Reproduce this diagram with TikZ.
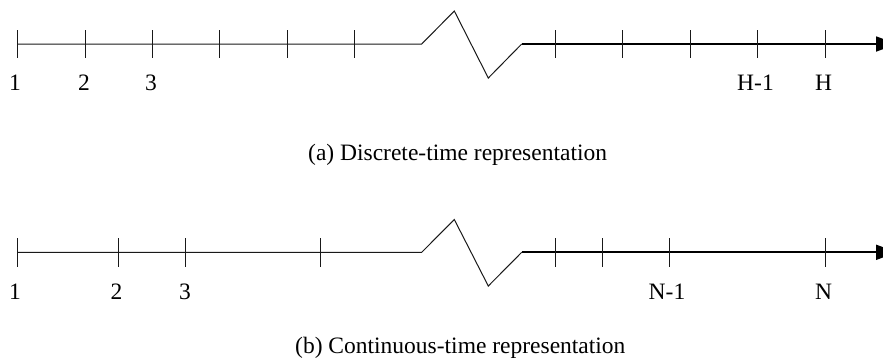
\documentclass[tikz,border=0pt]{standalone}
\usepackage{fontspec}
\setmainfont{Liberation Serif}
\usetikzlibrary{arrows.meta}
\begin{document}
\begin{tikzpicture}[x=1pt,y=-1pt,
  thinline/.style={line width=1pt,black!90},
  thickline/.style={line width=1.8pt,black},
  tickmark/.style={line width=1pt,black!90},
  lbl/.style={font=\fontsize{23.5}{28}\selectfont,inner sep=0pt,anchor=center},
  captext/.style={font=\fontsize{23.5}{28}\selectfont,inner sep=0pt,anchor=west}]
\useasboundingbox (0,0) rectangle (883,360);
% ---------- (a) ----------
\coordinate (a0) at (17.5,44);
\coordinate (ab1) at (421.7,44);
\coordinate (ab2) at (454.3,11);
\coordinate (ab3) at (488.3,78);
\coordinate (ab4) at (521.7,44);
\coordinate (aend) at (897,44);
\draw[thinline,line join=miter] (a0) -- (ab1) -- (ab2) -- (ab3) -- (ab4);
\draw[thickline,-{Triangle[length=21pt,width=15pt]}] (ab4) -- (aend);
\foreach \x in {17.5,85,152,219,287,354,555.7,622.7,690,757.3,825}
  \draw[tickmark] (\x,30) -- (\x,58);
\node[lbl] (a1) at (15,83) {1};
\node[lbl] (a2) at (84,83) {2};
\node[lbl] (a3) at (151,83) {3};
\node[lbl] (aH1) at (755.5,83) {H-1};
\node[lbl] (aH) at (823.5,83) {H};
\node[captext] (capa) at (308,155) {(a) Discrete-time representation};
% ---------- (b) ----------
\coordinate (b0) at (17.5,252.3);
\coordinate (bb1) at (421.7,252.3);
\coordinate (bb2) at (454.3,219.5);
\coordinate (bb3) at (488.3,286);
\coordinate (bb4) at (521.7,252.3);
\coordinate (bend) at (897,252.3);
\draw[thinline,line join=miter] (b0) -- (bb1) -- (bb2) -- (bb3) -- (bb4);
\draw[thickline,-{Triangle[length=21pt,width=15pt]}] (bb4) -- (bend);
\foreach \x in {17.5,118.3,185.7,320.7,555.7,602.3,669.3,825}
  \draw[tickmark] (\x,238) -- (\x,266.7);
\node[lbl] (b1) at (15,291.7) {1};
\node[lbl] (b2) at (116.5,291.7) {2};
\node[lbl] (b3) at (185,291.7) {3};
\node[lbl] (bN1) at (667,291.7) {N-1};
\node[lbl] (bN) at (823.5,291.7) {N};
\node[captext] (capb) at (295,348) {(b) Continuous-time representation};
\end{tikzpicture}
\end{document}
